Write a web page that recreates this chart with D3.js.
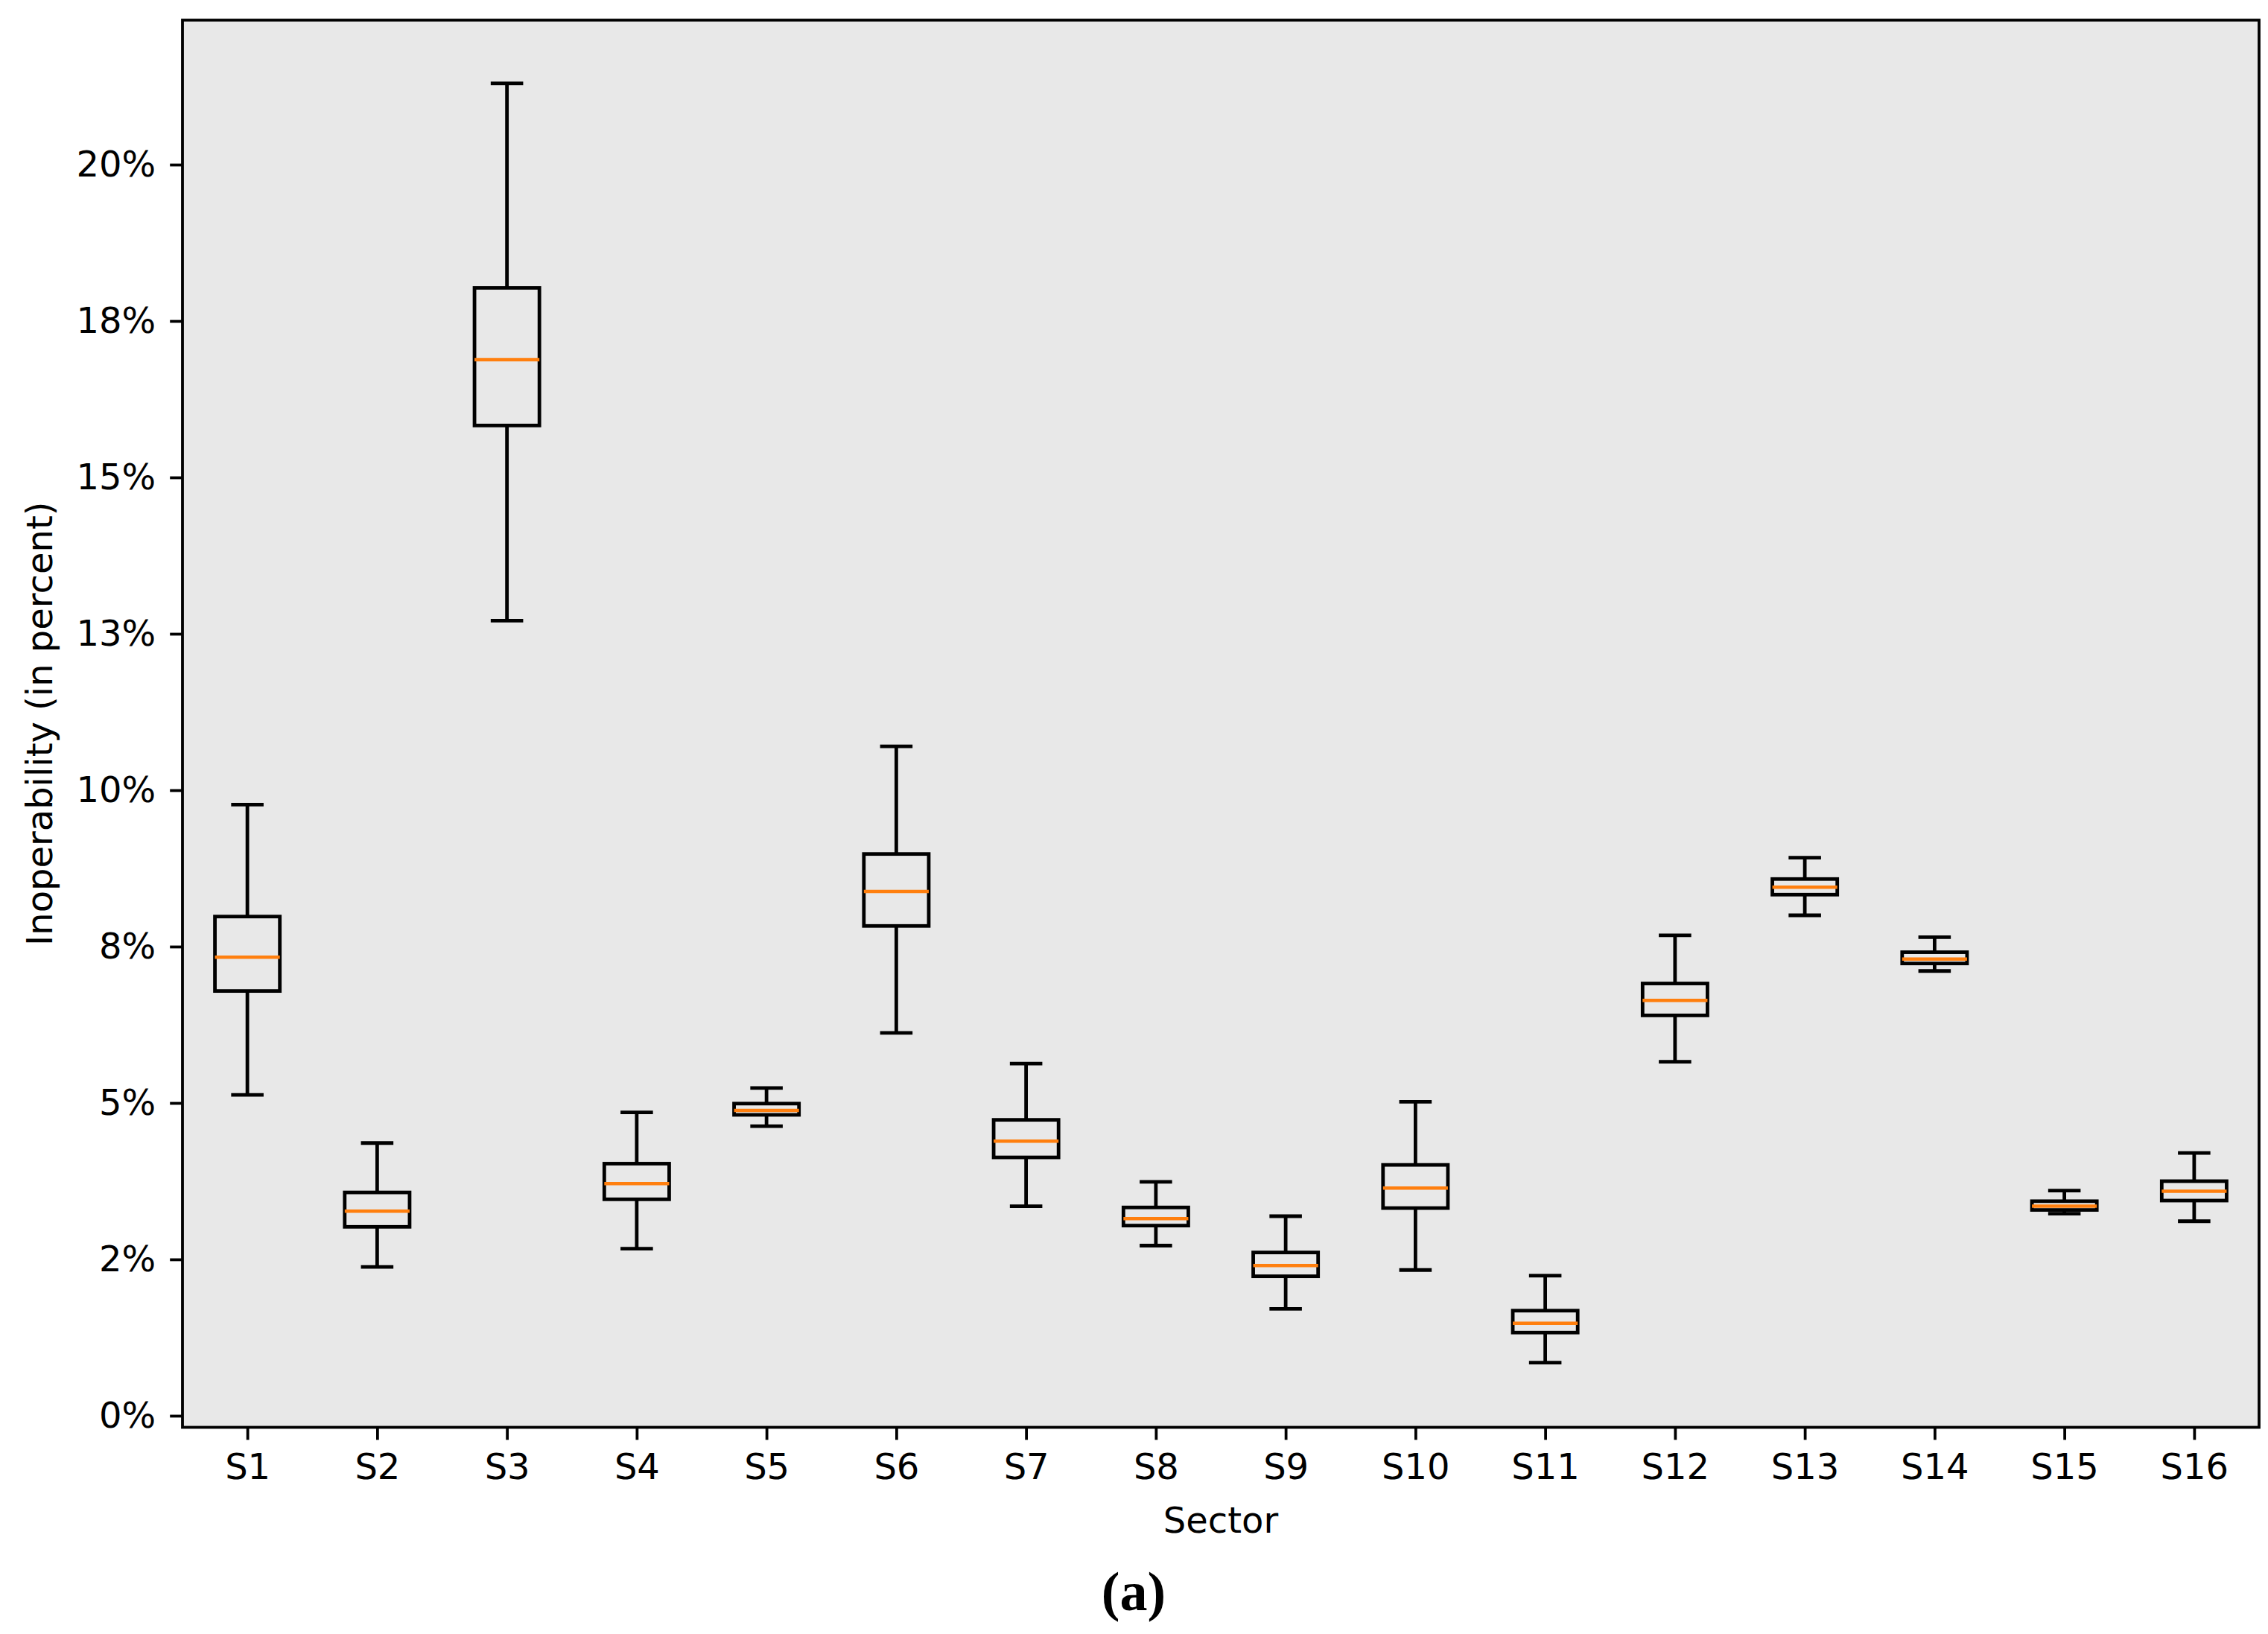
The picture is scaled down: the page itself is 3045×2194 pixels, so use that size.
<!DOCTYPE html>
<html>
<head>
<meta charset="utf-8">
<script src="https://cdn.jsdelivr.net/npm/d3@7"></script>
<style>
  body { margin: 0; background: #fff; }
  text { font-family: "DejaVu Sans", sans-serif; fill: #000; }
</style>
</head>
<body>
<div id="chart"></div>
<script>
// box plot data (percent)
var sectors = ["S1", "S2", "S3", "S4", "S5", "S6", "S7", "S8",
               "S9", "S10", "S11", "S12", "S13", "S14", "S15", "S16"];
var whiskerLow  = [5.13, 2.38, 12.71, 2.67, 4.63, 6.12, 3.35, 2.72, 1.71, 2.33, 0.85, 5.66, 8.00, 7.11, 3.23, 3.11];
var q1          = [6.79, 3.02, 15.83, 3.46, 4.81, 7.83, 4.13, 3.04, 2.23, 3.32, 1.33, 6.40, 8.33, 7.23, 3.29, 3.44];
var medians     = [7.33, 3.27, 16.88, 3.71, 4.88, 8.38, 4.39, 3.15, 2.40, 3.64, 1.48, 6.64, 8.45, 7.30, 3.35, 3.59];
var q3          = [7.98, 3.57, 18.03, 4.03, 4.99, 8.98, 4.73, 3.33, 2.61, 4.01, 1.68, 6.91, 8.58, 7.41, 3.43, 3.75];
var whiskerHigh = [9.77, 4.36, 21.30, 4.85, 5.24, 10.70, 5.63, 3.74, 3.19, 5.02, 2.24, 7.68, 8.92, 7.65, 3.60, 4.20];

var yTickValues = [0, 2.5, 5, 7.5, 10, 12.5, 15, 17.5, 20];
var yTickLabels = ["0%", "2%", "5%", "8%", "10%", "13%", "15%", "18%", "20%"];

var svgWidth = 3045;
var svgHeight = 2194;

var margin = { top: 27, right: 12, bottom: 277.5, left: 245 };
var width = svgWidth - margin.left - margin.right;
var height = svgHeight - margin.top - margin.bottom;

var lw = 4.8;

var svg = d3.select("#chart")
  .append("svg")
  .attr("width", svgWidth)
  .attr("height", svgHeight);

var chartGroup = svg.append("g")
  .attr("transform", `translate(${margin.left}, ${margin.top})`);

// background of the axes
chartGroup.append("rect")
  .attr("width", width)
  .attr("height", height)
  .attr("fill", "#e8e8e8");

var data = sectors.map(function (s, i) {
  return { name: s, pos: i + 1, lo: whiskerLow[i], q1: q1[i], med: medians[i], q3: q3[i], hi: whiskerHigh[i] };
});

var xScale = d3.scaleLinear()
  .domain([0.5, sectors.length + 0.5])
  .range([0, width]);

var yScale = d3.scaleLinear()
  .domain([-0.185, 22.31])
  .range([height, 0]);

var bottomAxis = d3.axisBottom(xScale)
  .tickValues(data.map(d => d.pos))
  .tickFormat((d, i) => sectors[i])
  .tickSize(16.8)
  .tickPadding(19);

var leftAxis = d3.axisLeft(yScale)
  .tickValues(yTickValues)
  .tickFormat((d, i) => yTickLabels[i])
  .tickSize(16.8)
  .tickPadding(19);

var xAxisG = chartGroup.append("g")
  .attr("transform", `translate(0, ${height})`)
  .call(bottomAxis);

var yAxisG = chartGroup.append("g")
  .call(leftAxis);

[xAxisG, yAxisG].forEach(function (g) {
  g.select(".domain").remove();
  g.selectAll(".tick line").attr("stroke", "#000").attr("stroke-width", 3.8);
  g.selectAll(".tick text")
    .style("font-family", "'DejaVu Sans', sans-serif")
    .style("font-size", "48px")
    .attr("fill", "#000");
});

var boxHalf = xScale(1.25) - xScale(1);
var capHalf = xScale(1.125) - xScale(1);

var boxes = chartGroup.selectAll(".box")
  .data(data)
  .enter()
  .append("g")
  .attr("class", "box");

// whiskers
boxes.append("line")
  .attr("x1", d => xScale(d.pos)).attr("x2", d => xScale(d.pos))
  .attr("y1", d => yScale(d.lo)).attr("y2", d => yScale(d.q1))
  .attr("stroke", "#000").attr("stroke-width", lw);

boxes.append("line")
  .attr("x1", d => xScale(d.pos)).attr("x2", d => xScale(d.pos))
  .attr("y1", d => yScale(d.q3)).attr("y2", d => yScale(d.hi))
  .attr("stroke", "#000").attr("stroke-width", lw);

// caps
boxes.append("line")
  .attr("x1", d => xScale(d.pos) - capHalf).attr("x2", d => xScale(d.pos) + capHalf)
  .attr("y1", d => yScale(d.lo)).attr("y2", d => yScale(d.lo))
  .attr("stroke", "#000").attr("stroke-width", lw);

boxes.append("line")
  .attr("x1", d => xScale(d.pos) - capHalf).attr("x2", d => xScale(d.pos) + capHalf)
  .attr("y1", d => yScale(d.hi)).attr("y2", d => yScale(d.hi))
  .attr("stroke", "#000").attr("stroke-width", lw);

// box
boxes.append("rect")
  .attr("x", d => xScale(d.pos) - boxHalf)
  .attr("y", d => yScale(d.q3))
  .attr("width", boxHalf * 2)
  .attr("height", d => yScale(d.q1) - yScale(d.q3))
  .attr("fill", "none")
  .attr("stroke", "#000")
  .attr("stroke-width", lw);

// median
boxes.append("line")
  .attr("x1", d => xScale(d.pos) - boxHalf).attr("x2", d => xScale(d.pos) + boxHalf)
  .attr("y1", d => yScale(d.med)).attr("y2", d => yScale(d.med))
  .attr("stroke", "#ff7f0e").attr("stroke-width", 4.5);

// spines
chartGroup.append("rect")
  .attr("width", width)
  .attr("height", height)
  .attr("fill", "none")
  .attr("stroke", "#000")
  .attr("stroke-width", 3.8);

// axis labels
chartGroup.append("text")
  .attr("transform", `translate(${70 - margin.left}, ${height / 2}) rotate(-90)`)
  .style("font-size", "48px")
  .style("text-anchor", "middle")
  .text("Inoperability (in percent)");

chartGroup.append("text")
  .attr("x", width / 2)
  .attr("y", 2058 - margin.top)
  .style("font-size", "48px")
  .style("text-anchor", "middle")
  .text("Sector");

// panel caption
svg.append("text")
  .attr("x", 1522)
  .attr("y", 2162)
  .style("font-family", "'Liberation Serif', serif")
  .style("font-size", "74px")
  .style("font-weight", "bold")
  .style("text-anchor", "middle")
  .text("(a)");
</script>
</body>
</html>
